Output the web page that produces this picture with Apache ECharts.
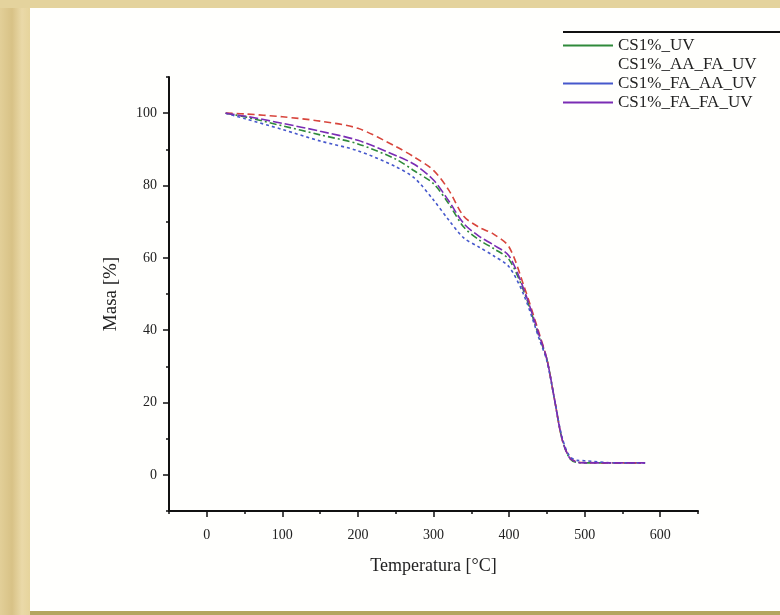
<!DOCTYPE html>
<html>
<head>
<meta charset="utf-8">
<script src="https://cdn.jsdelivr.net/npm/echarts@6/dist/echarts.min.js"></script>
<style>
html,body{margin:0;padding:0;width:780px;height:615px;overflow:hidden;}
body{background:linear-gradient(90deg,#e2cf98 0px,#d8c286 12px,#ead9a8 22px,#e6d49c 30px);}
#top{position:absolute;left:0;top:0;width:780px;height:8px;background:#e4d39d;}
#panel{position:absolute;left:30px;top:8px;width:750px;height:603px;background:#fffffd;}
#bot{position:absolute;left:30px;top:611px;width:750px;height:4px;background:#b3a560;}
#chart{position:absolute;left:0;top:0;width:780px;height:615px;}
</style>
</head>
<body>
<div id="top"></div>
<div id="panel"></div>
<div id="bot"></div>
<div id="chart"></div>
<script>
const temperature = [25, 50, 100, 150, 200, 250, 275, 300, 320, 340, 360, 380, 400, 420, 440, 450, 460, 470, 480, 490, 500, 540, 580];
const massUV      = [100, 99.0, 96.5, 94.0, 91.5, 87.3, 84.0, 80.5, 75.0, 68.5, 65.0, 62.5, 59.5, 50.5, 38.0, 32.0, 21.0, 10.0, 4.6, 3.4, 3.3, 3.3, 3.3];
const massAAFA    = [100, 99.8, 99.0, 97.8, 95.8, 90.8, 87.8, 84.2, 78.8, 71.5, 68.5, 66.5, 63.0, 52.0, 39.0, 32.0, 21.0, 10.0, 4.8, 3.6, 3.4, 3.3, 3.3];
const massFAAA    = [100, 98.5, 95.5, 92.3, 89.6, 85.2, 82.0, 76.0, 70.5, 65.5, 63.0, 60.5, 57.5, 49.5, 37.5, 31.5, 21.0, 10.5, 5.2, 4.0, 3.9, 3.3, 3.3];
const massFAFA    = [100, 99.2, 97.2, 95.0, 92.5, 88.3, 85.8, 81.5, 75.8, 69.5, 66.0, 63.5, 60.5, 51.0, 38.5, 32.0, 21.0, 10.0, 4.7, 3.5, 3.3, 3.3, 3.3];
const seriesNames = ["CS1%_UV", "CS1%_AA_FA_UV", "CS1%_FA_AA_UV", "CS1%_FA_FA_UV"];
const xTickLabels = [0, 100, 200, 300, 400, 500, 600];
const yTickLabels = [0, 20, 40, 60, 80, 100];
const xMinorTicks = [-50, 50, 150, 250, 350, 450, 550, 650];
const yMinorTicks = [-10, 10, 30, 50, 70, 90, 110];

const FONT = "Liberation Serif";
const pairs = m => temperature.map((t, i) => [t, m[i]]);
const colors = ["#2f8a3a", "#d8453c", "#4658cc", "#7a2cb4"];
const dashes = [[7,3,2,3], [7,4], [3,3], [9,3]];
const masses = [massUV, massAAFA, massFAAA, massFAFA];

const chart = echarts.init(document.getElementById('chart'), null, {renderer: 'canvas'});
const axisLine = {show: true, onZero: false, lineStyle: {color: '#111', width: 2}};
chart.setOption({
  backgroundColor: 'transparent',
  animation: false,
  grid: {left: 169, right: 82, top: 77, bottom: 104},
  legend: {
    orient: 'vertical', left: 558, top: 32,
    icon: 'rect', itemWidth: 50, itemHeight: 2, itemGap: 2,
    textStyle: {fontFamily: FONT, fontSize: 17, lineHeight: 16, color: '#222'},
    data: seriesNames.map((n, i) => i === 1
      ? {name: n, itemStyle: {color: 'rgba(0,0,0,0)', opacity: 0}}
      : {name: n, itemStyle: {color: colors[i]}})
  },
  xAxis: [{
    type: 'value', min: -50, max: 650,
    name: 'Temperatura [°C]', nameLocation: 'middle', nameGap: 46,
    nameTextStyle: {fontFamily: FONT, fontSize: 18, color: '#222'},
    axisLine: axisLine,
    axisTick: {show: true, inside: false, length: 6, customValues: xTickLabels, lineStyle: {color: '#111', width: 1.5}},
    axisLabel: {customValues: xTickLabels, fontFamily: FONT, fontSize: 14, color: '#222', margin: 17},
    splitLine: {show: false}
  }, {
    type: 'value', min: -50, max: 650, position: 'bottom', offset: 0,
    axisLine: {show: false, onZero: false},
    axisTick: {show: true, length: 3, customValues: xMinorTicks, lineStyle: {color: '#111', width: 1.5}},
    axisLabel: {show: false},
    splitLine: {show: false}
  }],
  yAxis: [{
    type: 'value', min: -10, max: 110,
    name: 'Masa [%]', nameLocation: 'middle', nameGap: 48, nameRotate: 90,
    nameTextStyle: {fontFamily: FONT, fontSize: 19, color: '#222'},
    axisLine: axisLine,
    axisTick: {show: true, inside: false, length: 6, customValues: yTickLabels, lineStyle: {color: '#111', width: 1.5}},
    axisLabel: {customValues: yTickLabels, fontFamily: FONT, fontSize: 14, color: '#222', margin: 12},
    splitLine: {show: false}
  }, {
    type: 'value', min: -10, max: 110, position: 'left', offset: 0,
    axisLine: {show: false, onZero: false},
    axisTick: {show: true, length: 3, customValues: yMinorTicks, lineStyle: {color: '#111', width: 1.5}},
    axisLabel: {show: false},
    splitLine: {show: false}
  }],
  series: seriesNames.map((n, i) => ({
    name: n, type: 'line', xAxisIndex: 0, yAxisIndex: 0,
    data: pairs(masses[i]), smooth: 0.3, showSymbol: false,
    lineStyle: {color: colors[i], width: 1.6, type: dashes[i]},
    itemStyle: {color: colors[i]}
  })),
  graphic: [{
    type: 'line', shape: {x1: 563, y1: 32, x2: 780, y2: 32},
    style: {stroke: '#111', lineWidth: 2}, silent: true
  }]
});
</script>
</body>
</html>
